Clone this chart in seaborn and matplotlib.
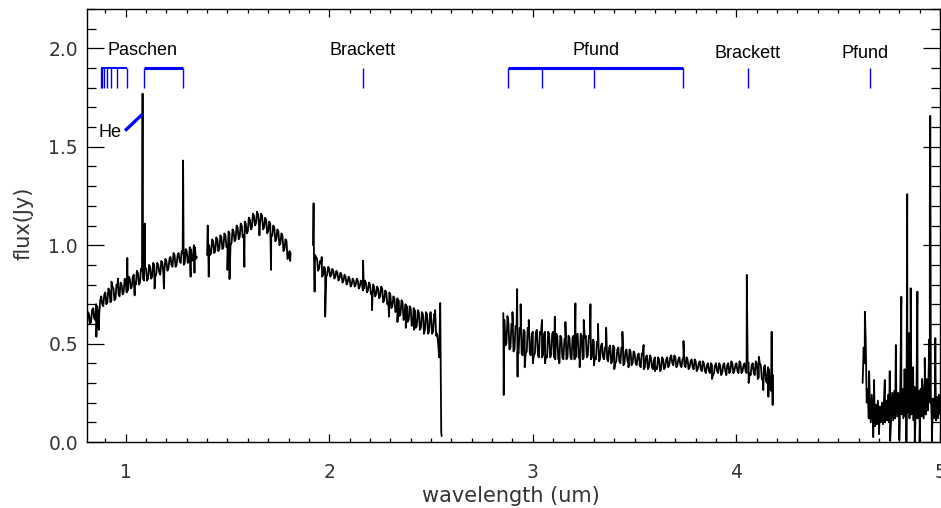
import numpy as np
import pandas as pd
import matplotlib
matplotlib.use("Agg")
import matplotlib.pyplot as plt
import seaborn as sns
from matplotlib.ticker import MultipleLocator, FormatStrFormatter

# ---------------- data ----------------
# Each segment: flux on a 0.01 um grid, flux on the in-between grid
# (offset 0.005 um), plus narrow emission / absorption features.

# segment 1 : 0.81 - 1.35 um
seg1_start, seg1_step = 0.81, 0.01
seg1_flux = [0.58, 0.65, 0.61, 0.68, 0.62, 0.69, 0.65, 0.74, 0.69, 0.76,
             0.71, 0.77, 0.72, 0.78, 0.73, 0.79, 0.74, 0.80, 0.76, 0.82,
             0.77, 0.83, 0.79, 0.85, 0.80, 0.86, 0.81, 0.87, 0.82, 0.88,
             0.83, 0.89, 0.84, 0.90, 0.85, 0.90, 0.85, 0.91, 0.87, 0.92,
             0.88, 0.94, 0.89, 0.95, 0.90, 0.96, 0.91, 0.96, 0.91, 0.97,
             0.92, 0.98, 0.93, 0.99, 0.94]
seg1_mid_start = 0.815
seg1_flux_mid = [0.66, 0.60, 0.67, 0.63, 0.70, 0.64, 0.72, 0.70, 0.75, 0.70,
                 0.78, 0.71, 0.79, 0.72, 0.80, 0.75, 0.81, 0.75, 0.83, 0.76,
                 0.84, 0.78, 0.84, 0.81, 0.87, 0.80, 0.88, 0.83, 0.89, 0.82,
                 0.90, 0.83, 0.91, 0.84, 0.91, 0.86, 0.92, 0.86, 0.93, 0.87,
                 0.93, 0.90, 0.96, 0.89, 0.95, 0.92, 0.97, 0.90, 0.98, 0.91,
                 0.99, 0.92, 1.00, 0.93]
seg1_spike_wl = [0.856, 0.868, 0.930, 0.962, 1.008, 1.044, 1.083, 1.094,
                 1.142, 1.188, 1.282, 1.319, 1.338]
seg1_spike_flux = [0.535, 0.57, 0.815, 0.83, 0.935, 0.745, 1.77, 1.11,
                   0.78, 0.78, 1.43, 0.84, 0.86]

# segment 2 : 1.40 - 1.81 um
seg2_start, seg2_step = 1.40, 0.01
seg2_flux = [0.95, 1.00, 0.96, 1.02, 0.97, 1.03, 0.98, 1.04, 0.99, 1.05,
             1.00, 1.06, 1.01, 1.07, 1.03, 1.09, 1.04, 1.10, 1.05, 1.11,
             1.07, 1.13, 1.09, 1.15, 1.11, 1.16, 1.11, 1.15, 1.09, 1.13,
             1.07, 1.11, 1.05, 1.09, 1.03, 1.07, 1.01, 1.05, 0.98, 1.02,
             0.94, 0.96]
seg2_mid_start = 1.405
seg2_flux_mid = [1.01, 0.95, 1.03, 0.96, 1.04, 0.97, 1.05, 0.98, 1.06, 0.99,
                 1.07, 1.00, 1.08, 1.02, 1.10, 1.03, 1.11, 1.04, 1.12, 1.06,
                 1.14, 1.08, 1.16, 1.10, 1.17, 1.10, 1.16, 1.08, 1.14, 1.06,
                 1.12, 1.04, 1.10, 1.02, 1.08, 1.00, 1.06, 0.97, 1.03, 0.93,
                 0.97]
seg2_spike_wl = [1.403, 1.408, 1.500, 1.510, 1.583, 1.645, 1.657, 1.714, 1.808]
seg2_spike_flux = [1.10, 0.84, 0.874, 0.828, 0.89, 1.165, 1.05, 0.874, 0.92]

# segment 3 : 1.92 - 2.55 um
seg3_start, seg3_step = 1.92, 0.01
seg3_flux = [1.00, 0.95, 0.93, 0.88, 0.91, 0.85, 0.88, 0.85, 0.88, 0.85,
             0.87, 0.84, 0.86, 0.83, 0.85, 0.82, 0.84, 0.81, 0.83, 0.80,
             0.82, 0.80, 0.82, 0.79, 0.81, 0.78, 0.81, 0.77, 0.80, 0.76,
             0.79, 0.75, 0.78, 0.74, 0.78, 0.72, 0.76, 0.71, 0.75, 0.69,
             0.73, 0.67, 0.72, 0.65, 0.71, 0.63, 0.69, 0.62, 0.68, 0.60,
             0.67, 0.59, 0.66, 0.58, 0.65, 0.57, 0.65, 0.56, 0.64, 0.56,
             0.64, 0.55, 0.43, 0.05]
seg3_mid_start = 1.925
seg3_flux_mid = [0.94, 0.94, 0.87, 0.92, 0.84, 0.89, 0.84, 0.89, 0.84, 0.88,
                 0.83, 0.87, 0.82, 0.86, 0.81, 0.85, 0.80, 0.84, 0.79, 0.83,
                 0.79, 0.83, 0.78, 0.82, 0.77, 0.82, 0.76, 0.81, 0.75, 0.80,
                 0.74, 0.79, 0.73, 0.79, 0.71, 0.77, 0.70, 0.76, 0.68, 0.74,
                 0.66, 0.73, 0.64, 0.72, 0.62, 0.70, 0.61, 0.69, 0.59, 0.68,
                 0.58, 0.67, 0.57, 0.66, 0.56, 0.66, 0.55, 0.65, 0.55, 0.65,
                 0.54, 0.50]
seg3_spike_wl = [1.923, 1.928, 1.963, 1.980, 2.166, 2.210, 2.294, 2.335,
                 2.376, 2.417, 2.465, 2.498, 2.520, 2.545, 2.552]
seg3_spike_flux = [1.213, 0.764, 0.94, 0.637, 0.921, 0.67, 0.637, 0.61,
                   0.58, 0.57, 0.55, 0.66, 0.67, 0.706, 0.03]

# segment 4 : 2.86 - 4.18 um
seg4_start, seg4_step = 2.86, 0.01
seg4_flux = [0.62, 0.50, 0.61, 0.48, 0.59, 0.47, 0.58, 0.45, 0.57, 0.44,
             0.56, 0.46, 0.57, 0.44, 0.56, 0.45, 0.57, 0.43, 0.55, 0.44,
             0.56, 0.43, 0.55, 0.44, 0.56, 0.42, 0.54, 0.43, 0.53, 0.42,
             0.53, 0.43, 0.53, 0.42, 0.54, 0.43, 0.55, 0.42, 0.54, 0.43,
             0.54, 0.44, 0.53, 0.43, 0.51, 0.42, 0.50, 0.42, 0.50, 0.42,
             0.49, 0.41, 0.49, 0.41, 0.48, 0.41, 0.48, 0.40, 0.47, 0.40,
             0.47, 0.40, 0.46, 0.40, 0.45, 0.39, 0.45, 0.38, 0.44, 0.38,
             0.44, 0.38, 0.43, 0.37, 0.43, 0.37, 0.42, 0.37, 0.42, 0.38,
             0.43, 0.39, 0.44, 0.39, 0.43, 0.39, 0.43, 0.38, 0.43, 0.38,
             0.42, 0.38, 0.42, 0.37, 0.41, 0.37, 0.41, 0.36, 0.40, 0.35,
             0.40, 0.35, 0.39, 0.35, 0.40, 0.35, 0.39, 0.35, 0.40, 0.35,
             0.40, 0.36, 0.40, 0.36, 0.40, 0.35, 0.40, 0.36, 0.40, 0.35,
             0.40, 0.34, 0.40, 0.34, 0.40, 0.33, 0.39, 0.31, 0.39, 0.30,
             0.37, 0.26, 0.34]
seg4_mid_start = 2.865
seg4_flux_mid = [0.49, 0.62, 0.47, 0.60, 0.46, 0.59, 0.46, 0.58, 0.45, 0.57,
                 0.45, 0.58, 0.45, 0.55, 0.44, 0.56, 0.44, 0.56, 0.43, 0.55,
                 0.44, 0.56, 0.43, 0.55, 0.43, 0.55, 0.42, 0.54, 0.43, 0.52,
                 0.42, 0.54, 0.43, 0.53, 0.42, 0.54, 0.43, 0.55, 0.42, 0.53,
                 0.43, 0.54, 0.42, 0.52, 0.43, 0.51, 0.41, 0.49, 0.43, 0.48,
                 0.42, 0.48, 0.40, 0.49, 0.40, 0.47, 0.41, 0.48, 0.39, 0.46,
                 0.41, 0.47, 0.39, 0.46, 0.40, 0.44, 0.39, 0.45, 0.37, 0.43,
                 0.37, 0.44, 0.38, 0.42, 0.38, 0.43, 0.36, 0.43, 0.37, 0.42,
                 0.38, 0.43, 0.40, 0.44, 0.38, 0.42, 0.39, 0.42, 0.39, 0.43,
                 0.37, 0.41, 0.38, 0.42, 0.36, 0.40, 0.37, 0.41, 0.36, 0.39,
                 0.36, 0.40, 0.34, 0.39, 0.36, 0.40, 0.34, 0.39, 0.36, 0.39,
                 0.35, 0.41, 0.35, 0.39, 0.36, 0.41, 0.35, 0.39, 0.36, 0.41,
                 0.35, 0.39, 0.35, 0.41, 0.32, 0.40, 0.32, 0.38, 0.31, 0.38,
                 0.27, 0.33]
seg4_spike_wl = [2.855, 2.857, 2.875, 2.900, 2.923, 2.925, 2.940, 2.960,
                 2.980, 3.000, 3.045, 3.060, 3.108, 3.130, 3.160, 3.209,
                 3.230, 3.250, 3.283, 3.300, 3.320, 3.360, 3.400, 3.440,
                 3.470, 3.544, 3.600, 3.740, 3.880, 3.950, 4.051, 4.060,
                 4.110, 4.132, 4.157, 4.173, 4.178]
seg4_spike_flux = [0.655, 0.239, 0.64, 0.66, 0.777, 0.332, 0.70, 0.38,
                   0.62, 0.40, 0.62, 0.40, 0.637, 0.40, 0.61, 0.705,
                   0.38, 0.62, 0.70, 0.39, 0.60, 0.58, 0.37, 0.56,
                   0.38, 0.493, 0.36, 0.513, 0.32, 0.34, 0.849, 0.30,
                   0.433, 0.264, 0.23, 0.56, 0.188]

# segment 5 : 4.62 - 5.00 um (already at 0.005 um spacing)
seg5_start, seg5_step = 4.62, 0.005
seg5_flux = [0.30, 0.48, 0.40, 0.52, 0.20, 0.27, 0.12, 0.22, 0.10, 0.24,
             0.12, 0.20, 0.08, 0.19, 0.09, 0.21, 0.07, 0.18, 0.10, 0.20,
             0.09, 0.22, 0.10, 0.21, 0.11, 0.24, 0.10, 0.23, 0.12, 0.25,
             0.11, 0.26, 0.12, 0.27, 0.13, 0.25, 0.11, 0.28, 0.14, 0.27,
             0.12, 0.30, 0.13, 0.29, 0.15, 0.31, 0.12, 0.28, 0.14, 0.27,
             0.11, 0.28, 0.13, 0.29, 0.12, 0.26, 0.10, 0.27, 0.13, 0.28,
             0.12, 0.30, 0.14, 0.32, 0.16, 0.40, 0.20, 0.24, 0.10, 0.22,
             0.12, 0.25, 0.11, 0.23, 0.12, 0.24, 0.14]
seg5_mid_start = 4.6225
seg5_flux_mid = []
seg5_spike_wl = [4.631, 4.652, 4.672, 4.676, 4.700, 4.729, 4.753, 4.755,
                 4.783, 4.800, 4.810, 4.826, 4.835, 4.839, 4.848, 4.856,
                 4.868, 4.876, 4.889, 4.900, 4.912, 4.925, 4.946, 4.950,
                 4.952, 4.954, 4.960, 4.977]
seg5_spike_flux = [0.662, 0.36, 0.025, 0.315, 0.04, 0.315, 0.36, 0.005,
                   0.493, 0.01, 0.738, 0.37, 0.0, 1.259, 0.553, 0.781,
                   0.38, 0.0, 0.764, 0.0, 0.32, 0.427, 0.52, 1.20,
                   1.657, 0.90, 0.0, 0.528]

# line identifications (um)
paschen_a = [0.878, 0.886, 0.894, 0.906, 0.926, 0.957, 1.008]
paschen_b = [1.088, 1.284]
brackett_lines = [2.166, 4.055]
pfund_a = [2.879, 3.043, 3.299, 3.740]
pfund_b = [4.655]
series_names = ["Paschen", "Brackett", "Pfund", "Brackett", "Pfund"]
series_label_wl = [1.082, 2.162, 3.31, 4.055, 4.63]
series_label_flux = [1.99, 1.99, 1.99, 1.972, 1.972]
he_line_wl = 1.083

# ---------------- build table ----------------
segments = [
    (seg1_start, seg1_step, seg1_flux, seg1_mid_start, seg1_flux_mid,
     seg1_spike_wl, seg1_spike_flux),
    (seg2_start, seg2_step, seg2_flux, seg2_mid_start, seg2_flux_mid,
     seg2_spike_wl, seg2_spike_flux),
    (seg3_start, seg3_step, seg3_flux, seg3_mid_start, seg3_flux_mid,
     seg3_spike_wl, seg3_spike_flux),
    (seg4_start, seg4_step, seg4_flux, seg4_mid_start, seg4_flux_mid,
     seg4_spike_wl, seg4_spike_flux),
    (seg5_start, seg5_step, seg5_flux, seg5_mid_start, seg5_flux_mid,
     seg5_spike_wl, seg5_spike_flux),
]
frames = []
for i, (st, sp, fl, mst, mfl, swl, sfl) in enumerate(segments):
    wl = st + sp * np.arange(len(fl))
    mwl = mst + sp * np.arange(len(mfl))
    d = pd.DataFrame({"wl": np.concatenate([wl, mwl, swl]),
                      "flux": np.concatenate([fl, mfl, sfl])})
    d = d.sort_values("wl", kind="stable")
    d["seg"] = i
    frames.append(d)
df = pd.concat(frames, ignore_index=True)

# ---------------- plot ----------------
sns.set_style("white")
plt.rcParams["font.family"] = ["DejaVu Sans"]

fig = plt.figure(figsize=(9.41, 5.08), dpi=100)
ax = fig.add_axes([87 / 941, 66 / 508, 853 / 941, 433 / 508])

sns.lineplot(data=df, x="wl", y="flux", units="seg", estimator=None,
             sort=False, color="black", lw=1.3, ax=ax, legend=False)

blue = "#0000ff"
y0, y1 = 1.80, 1.90
for grp, bar in [(paschen_a, True), (paschen_b, True), (pfund_a, True),
                 (brackett_lines, False), (pfund_b, False)]:
    ax.vlines(grp, y0, y1, color=blue, lw=1.0)
    if bar:
        ax.hlines(y1, min(grp), max(grp), color=blue,
                  lw=1.4 if grp is paschen_a else 2.2)

lab_font = dict(family="Liberation Sans", fontsize=13, color="black",
                ha="center", va="center")
for name, xw, yf in zip(series_names, series_label_wl, series_label_flux):
    ax.text(xw, yf, name, **lab_font)
ax.text(0.923, 1.572, "He", **lab_font)
ax.plot([0.997, he_line_wl - 0.001], [1.582, 1.665], color=blue, lw=2.4,
        solid_capstyle="butt")

ax.set_xlim(0.81, 5.0)
ax.set_ylim(0.0, 2.2)
ax.xaxis.set_major_locator(MultipleLocator(1))
ax.xaxis.set_minor_locator(MultipleLocator(0.1))
ax.yaxis.set_major_locator(MultipleLocator(0.5))
ax.yaxis.set_minor_locator(MultipleLocator(0.1))
ax.xaxis.set_major_formatter(FormatStrFormatter("%d"))
ax.yaxis.set_major_formatter(FormatStrFormatter("%.1f"))

tick_col = "#333333"
ax.tick_params(axis="x", which="both", direction="in", top=True, bottom=True,
               labelsize=13.5, labelcolor=tick_col, pad=15, color="black",
               width=0.9)
ax.tick_params(axis="x", which="major", length=6)
ax.tick_params(axis="x", which="minor", length=3)
ax.tick_params(axis="y", which="both", direction="in", left=True, right=True,
               labelsize=13.5, labelcolor=tick_col, pad=6.5, color="black",
               width=0.9)
ax.tick_params(axis="y", which="major", length=12)
ax.tick_params(axis="y", which="minor", length=6.5)

for s in ax.spines.values():
    s.set_color("black")
    s.set_linewidth(1.0)

ax.set_xlabel("wavelength (um)", fontsize=15, color=tick_col)
ax.set_ylabel("flux(Jy)", fontsize=15, color=tick_col)
ax.xaxis.set_label_coords(0.497, -0.102)
ax.yaxis.set_label_coords(-0.063, 0.506)

fig.savefig("out.png", dpi=100)
